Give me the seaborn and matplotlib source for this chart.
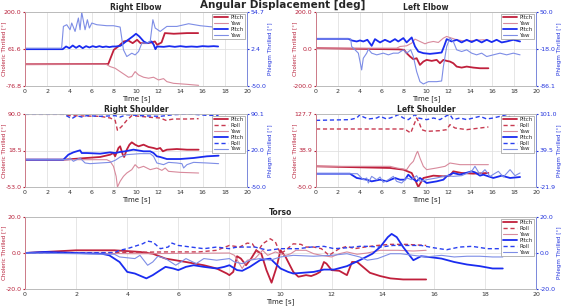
import matplotlib
matplotlib.use("Agg")
import matplotlib.pyplot as plt
from matplotlib.lines import Line2D
import seaborn as sns

# ---------------- data ----------------
# Right Elbow
re_red_pitch_t = [0, 7.5, 8.0, 8.4, 8.9, 9.3, 9.7, 10.1, 10.4, 11.0, 11.4, 11.7, 11.9, 12.3, 12.6, 13.4, 14.6, 15.6]
re_red_pitch = [4.6, 5.5, 58.5, 71.0, 89.8, 93.5, 83.5, 96.0, 83.5, 83.5, 86.0, 89.8, 77.3, 86.0, 121.1, 118.6, 121.1, 121.1]
re_red_yaw_t = [0, 7.3, 7.67, 8.12, 8.57, 9.02, 9.32, 9.62, 9.92, 10.23, 10.68, 11.13, 11.58, 12.03, 12.48, 12.78, 13.38, 14.59, 15.64]
re_red_yaw = [4.6, 4.6, -4.2, -10.4, -23.0, -35.5, -44.0, -41.7, -23.0, -35.5, -44.0, -47.7, -44.0, -54.2, -49.2, -60.5, -66.8, -70.5, -74.3]
re_blue_pitch_t = [0, 3.4, 3.7, 4.0, 4.3, 4.6, 4.9, 5.2, 5.5, 5.8, 6.1, 6.4, 6.7, 7.0, 7.3, 7.6, 7.9, 8.2, 8.6, 8.9,
                   9.3, 9.7, 10.0, 10.3, 10.7, 11.0, 11.4, 11.6, 11.75, 11.9, 12.5, 13.0, 13.5, 14.0, 14.5, 15.0,
                   15.5, 16.0, 16.5, 17.0, 17.4]
re_blue_pitch = [2.1, 2.1, 5.9, 3.5, 7.3, 4.0, 6.9, 3.5, 6.4, 4.5, 6.4, 5.0, 6.4, 5.0, 5.9, 5.0, 5.9, 5.9, 6.9, 10.6,
                 15.4, 20.1, 23.9, 20.1, 13.0, 10.6, 13.0, 8.3, 2.1, 5.9, 5.4, 6.4, 5.4, 6.4, 5.4, 5.9,
                 5.4, 6.4, 5.9, 6.4, 5.9]
re_blue_yaw_t = [0, 3.3, 3.46, 3.76, 4.06, 4.21, 4.51, 4.81, 4.96, 5.11, 5.41, 5.62, 5.8, 6.02, 6.47, 7.37, 7.97,
                 8.57, 8.87, 9.17, 9.62, 9.92, 10.23, 10.53, 10.98, 11.28, 11.52, 11.73, 12.18, 12.78, 13.68,
                 14.74, 15.79, 16.99, 17.44]
re_blue_yaw = [3.5, 3.5, 34.3, 36.7, 29.6, 39.1, 27.2, 46.2, 29.6, 54.5, 29.6, 43.8, 32.0, 39.1, 36.7, 35.3, 35.3,
               33.4, 1.2, -8.3, -3.6, -6.0, -1.2, 10.6, 10.6, 13.0, 43.8, 32.0, 27.2, 34.3, 34.3,
               38.1, 35.3, 33.4, 33.4]

# Left Elbow
le_red_pitch_t = [0, 7.5, 8.0, 8.24, 8.55, 8.85, 9.15, 9.45, 9.76, 10.06, 10.52, 10.97, 11.27, 11.58, 11.88,
                  12.18, 12.48, 12.79, 13.24, 13.7, 14.3, 14.91, 15.67]
le_red_pitch = [4.5, -2.0, -4.5, -22.6, -40.7, -55.2, -49.8, -86.0, -67.9, -58.8, -64.3, -58.8, -76.9, -58.8, -64.3,
                -67.9, -76.9, -95.0, -100.5, -95.0, -100.5, -104.1, -104.1]
le_red_yaw_t = [0, 7.33, 7.64, 8.24, 8.7, 9.0, 9.45, 9.91, 10.21, 10.67, 11.12, 11.58, 11.88, 12.33, 12.79,
                13.39, 14.3, 15.21, 15.67]
le_red_yaw = [4.5, 4.5, 13.6, 17.2, 31.7, 53.4, 40.7, 28.0, 35.3, 40.7, 35.3, 58.8, 67.9, 58.8, 49.8,
              44.3, 46.1, 49.8, 46.1]
le_blue_pitch_t = [0, 2.94, 3.24, 3.7, 4.0, 4.3, 4.67, 5.06, 5.36, 5.82, 6.27, 6.73, 7.18, 7.48, 7.94, 8.24, 8.7,
                   9.0, 9.3, 9.76, 10.36, 10.97, 11.42, 11.64, 11.88, 12.33, 12.79, 13.24, 13.7, 14.15, 14.6,
                   15.06, 15.52, 15.97, 16.42, 16.88, 17.33, 17.94, 18.55]
le_blue_pitch = [0.7, 0.7, -2.3, -4.2, -2.3, -4.2, -1.1, -12.2, 0.1, -6.0, -1.1, -5.4, 0.1, -4.2, 2.0, -6.0, 3.2,
                 -13.4, -22.7, -25.7, -27.0, -25.7, -24.5, -13.4, 0.1, -4.2, -1.1, -6.0, -1.1, -5.4, -1.1,
                 -6.0, -1.1, -5.4, -1.1, -6.0, -4.2, -1.1, -4.2]
le_blue_yaw_t = [0, 3.15, 3.24, 3.55, 3.85, 4.15, 4.3, 4.61, 4.76, 5.06, 5.52, 6.12, 6.58, 7.03, 7.48, 7.94,
                 8.24, 8.61, 8.85, 9.15, 9.45, 9.76, 10.21, 10.97, 11.42, 11.58, 11.88, 12.18, 12.48, 12.79,
                 13.24, 13.7, 14.15, 14.6, 15.06, 15.52, 16.12, 16.73, 17.33, 17.94, 18.55]
le_blue_yaw = [0.7, 0.7, -13.4, -19.6, -25.7, -56.5, -35.0, -25.7, -18.4, -25.7, -28.8, -25.7, -28.8, -25.7,
               -25.7, -19.6, -25.7, -19.6, -31.9, -59.6, -78.1, -82.4, -78.1, -78.1, -76.9, -50.4, -13.4, 2.0,
               -4.2, -19.6, -22.7, -19.6, -25.7, -28.8, -25.7, -31.9, -28.8, -25.7, -28.8, -25.7, -28.8]

# Right Shoulder
rs_red_pitch_t = [0, 3.46, 6.77, 7.67, 7.97, 8.12, 8.42, 8.57, 8.81, 8.93, 9.17, 9.41, 9.62, 9.92, 10.23, 10.68,
                  11.13, 11.58, 11.88, 12.18, 12.42, 12.78, 13.68, 14.59, 15.64]
rs_red_pitch = [0.5, 0.5, 5.8, 10.3, 13.6, 7.1, 23.4, 26.7, 10.3, 5.8, 20.1, 29.9, 34.5, 29.9, 26.7, 29.9,
                25.4, 23.4, 21.4, 23.4, 16.9, 20.1, 21.4, 20.1, 20.1]
rs_red_roll_t = [0, 3.46, 4.06, 6.77, 7.67, 8.12, 8.33, 8.72, 9.17, 9.62, 10.38, 11.28, 12.18, 12.69, 13.38,
                 14.59, 15.64]
rs_red_roll = [89.3, 89.3, 86.7, 85.4, 82.2, 77.6, 58.0, 65.8, 77.6, 86.7, 85.4, 83.5, 82.2, 77.6, 80.2,
               80.2, 80.9]
rs_red_yaw_t = [0, 7.37, 7.67, 7.97, 8.21, 8.33, 8.57, 8.87, 9.17, 9.62, 9.92, 10.23, 10.68, 11.28, 11.88,
                12.33, 12.63, 12.93, 13.98, 15.64]
rs_red_yaw = [0.5, 0.5, -2.7, -12.5, -32.1, -53.0, -41.9, -32.1, -25.6, -19.0, -9.3, -15.8, -12.5, -19.0, -15.8,
              -20.4, -15.8, -22.3, -24.3, -25.6]
rs_blue_pitch_t = [0, 3.46, 3.91, 4.36, 4.66, 4.96, 5.11, 5.56, 6.77, 7.67, 8.12, 8.57, 9.02, 9.77, 10.68,
                   11.28, 11.58, 11.88, 12.18, 12.78, 13.98, 15.19, 16.39, 17.44]
rs_blue_pitch = [2.5, 2.5, 12.1, 16.5, 18.5, 20.4, 15.2, 15.2, 14.0, 16.5, 15.2, 17.2, 18.5, 21.7, 18.5,
                 18.5, 15.2, 8.9, 7.6, 3.7, 3.7, 5.7, 8.9, 10.1]
rs_blue_roll_t = [0, 3.46, 4.21, 4.66, 5.11, 5.56, 6.77, 8.12, 8.57, 9.17, 10.38, 12.18, 13.38, 14.89, 16.39, 17.44]
rs_blue_roll = [90.1, 90.1, 81.1, 86.9, 84.3, 86.9, 85.6, 86.9, 84.3, 88.8, 86.9, 85.6, 88.8, 90.1, 87.5, 87.5]
rs_blue_yaw_t = [0, 3.91, 4.06, 4.36, 4.96, 5.41, 5.86, 6.77, 7.67, 8.12, 8.57, 9.17, 10.38, 11.28, 11.58,
                 11.88, 12.48, 12.93, 13.68, 14.14, 14.29, 14.59, 15.19, 16.39, 17.44]
rs_blue_yaw = [2.5, 2.5, 5.7, -0.7, 5.7, -3.9, -5.2, -3.9, -2.7, 1.2, 7.6, 12.1, 14.0, 14.0, 8.9,
               -3.9, -7.1, -2.7, -3.9, -5.2, -13.5, -7.1, -2.7, -3.9, -5.2]

# Left Shoulder
ls_red_pitch_t = [0, 6.73, 7.94, 8.7, 9.0, 9.3, 9.76, 10.67, 11.58, 12.18, 12.48, 13.24, 14.3, 15.67]
ls_red_pitch = [0.3, -3.7, -7.8, -15.9, -32.1, -50.0, -28.1, -22.4, -24.0, -22.4, -11.9, -15.9, -17.5, -15.9]
ls_red_roll_t = [0, 7.94, 8.24, 8.61, 8.85, 9.15, 9.39, 9.61, 10.06, 11.27, 11.88, 12.18, 12.64, 13.7, 14.91, 15.67]
ls_red_roll = [91.2, 91.2, 87.9, 81.5, 97.7, 118.0, 105.8, 89.6, 85.5, 87.1, 89.6, 101.7, 93.6, 89.6, 93.6, 96.1]
ls_red_yaw_t = [0, 6.73, 7.33, 8.24, 8.55, 8.85, 9.15, 9.24, 9.45, 9.76, 10.06, 10.97, 11.73, 12.18, 13.09,
                14.3, 15.67]
ls_red_yaw = [0.3, 0.3, -3.7, -7.8, 4.4, 12.5, 32.8, 36.8, 20.6, 0.3, -7.8, -3.7, 0.3, 8.4, 4.4, 4.4, 4.4]
ls_blue_pitch_t = [0, 3.09, 3.7, 4.61, 5.06, 5.82, 6.42, 7.18, 7.64, 8.09, 8.39, 8.7, 9.15, 9.45, 10.06, 10.97,
                   11.58, 11.88, 12.48, 13.09, 14.15, 14.45, 14.91, 15.21, 16.12, 16.88, 17.64, 18.55]
ls_blue_pitch = [0.5, 0.5, -6.7, -9.6, -12.4, -9.6, -12.4, -6.7, -9.6, -9.6, -1.1, -6.7, -12.4, -6.7, -15.2,
                 -12.4, -9.6, -4.0, 1.7, -1.1, 4.5, 2.8, -2.8, -1.1, -6.7, -2.8, -6.7, -5.1]
ls_blue_roll_t = [0, 3.09, 3.7, 4.0, 4.3, 4.76, 5.52, 5.82, 6.42, 7.03, 7.48, 7.94, 8.39, 9.0, 9.3, 10.06, 10.67,
                  11.27, 11.88, 12.18, 12.48, 13.09, 13.7, 14.3, 14.91, 15.52, 16.12, 16.73, 17.33, 17.94, 18.55]
ls_blue_roll = [90.3, 91.5, 94.3, 99.9, 96.0, 92.6, 94.3, 97.1, 92.6, 96.0, 99.9, 94.3, 91.5, 99.9, 94.3, 91.5,
                94.3, 91.5, 98.2, 99.9, 91.5, 94.3, 91.5, 94.3, 97.1, 92.6, 94.3, 97.1, 99.9, 91.5, 94.3]
ls_blue_yaw_t = [0, 3.76, 4.0, 4.3, 4.61, 4.76, 5.06, 5.52, 5.82, 6.12, 6.58, 7.03, 7.33, 7.79, 8.24, 8.7, 9.15,
                 9.45, 10.06, 10.97, 11.88, 12.48, 13.24, 14.15, 14.45, 14.91, 15.36, 15.82, 16.58, 17.03,
                 17.64, 18.09, 18.55]
ls_blue_yaw = [0.5, 0.5, -4.0, -9.6, -6.7, -15.2, -4.0, -9.6, -5.1, -14.0, -9.6, -4.0, -12.4, -15.2, -6.7, -9.6,
               -2.8, -12.4, -9.6, -6.7, -2.8, -4.0, -2.8, 4.5, 12.9, -1.1, 7.3, -4.0, 4.5, -5.1, 7.3, -2.8, 1.7]

# Torso
to_red_pitch_t = [0, 2.0, 3.5, 4.5, 5.0, 5.5, 6.3, 7.0, 7.5, 7.9, 8.0, 8.15, 8.3, 8.45, 8.65, 8.85, 9.05, 9.25,
                  9.45, 9.65, 9.85, 10.0, 10.2, 10.5, 10.7, 11.0, 11.2, 11.4, 11.55, 11.7, 11.8, 12.0, 12.3,
                  12.6, 12.8, 13.0, 13.3, 13.5, 13.9, 14.3, 14.8, 15.7]
to_red_pitch = [0, 1.5, 1.5, 0.6, -0.4, -3.1, -5.0, -6.8, -8.6, -11.4, -12.3, -10.5, -1.8, -3.1, -6.8, -3.1,
                1.5, -0.4, -9.5, -16.5, -7.7, 1.5, -2.2, -10.5, -13.2, -12.3, -12.8, -11.7, -10.5, -5.0,
                -5.9, -9.5, -9.9, -12.3, -5.0, -5.0, -8.6, -11.0, -12.8, -14.1, -14.7, -14.7]
to_red_roll_t = [0, 3.0, 5.5, 6.8, 7.5, 8.0, 8.4, 8.7, 8.9, 9.1, 9.3, 9.6, 9.8, 10.0, 10.2, 10.5, 10.8, 11.0,
                 11.3, 11.6, 11.9, 12.1, 12.3, 12.6, 12.9, 13.3, 13.8, 14.3, 14.9, 15.7]
to_red_roll = [0, 0.2, 0.6, 0.6, 1.5, 4.2, 3.3, 5.5, 5.1, 0.6, 5.1, 7.9, 6.1, -0.4, 1.5, 5.1, 4.8, 3.3,
               3.3, 2.4, -1.3, 0.6, 2.4, 3.7, 2.4, 3.3, 4.2, 4.8, 4.8, 4.2]
to_red_yaw_t = [0, 4.5, 8.0, 8.2, 8.5, 8.7, 9.0, 9.3, 9.5, 9.8, 10.0, 10.2, 10.4, 10.6, 11.0, 11.3, 11.6, 12.0,
                12.3, 12.6, 13.0, 13.4, 13.9, 14.6, 15.2, 15.7]
to_red_yaw = [0, -0.4, 0, -1.3, -8.6, -4.0, -3.1, 1.5, -1.3, 0.6, -0.4, -1.3, -0.4, 1.5, 1.5, -0.4, -1.3, -2.2,
              -0.4, 0.6, -0.7, 0, 1.5, 1.5, 1.1, 1.5]
to_blue_pitch_t = [0, 0.8, 2.0, 3.0, 3.3, 3.7, 4.0, 4.3, 4.75, 5.0, 5.3, 5.5, 5.8, 6.0, 6.3, 6.6, 7.0, 7.5, 7.8,
                   8.0, 8.3, 8.5, 8.8, 9.2, 9.6, 10.0, 10.3, 10.5, 11.3, 11.7, 12.1, 12.6, 13.1, 13.6, 13.9,
                   14.2, 14.35, 14.55, 14.8, 15.1, 15.2, 15.5, 15.8, 16.3, 16.8, 17.3, 17.8, 18.3, 18.7]
to_blue_pitch = [0, 0.6, 0, -0.4, -1.3, -5.0, -10.5, -11.4, -14.1, -12.3, -9.5, -7.7, -8.6, -9.5, -7.7, -6.8,
                 -7.7, -8.6, -7.7, -6.8, -9.5, -9.9, -7.7, -4.0, -3.1, -8.6, -10.5, -11.4, -10.5, -9.2, -9.2,
                 -7.3, -4.0, -0.4, 3.3, 8.8, 10.6, 8.8, 3.3, -2.2, -4.0, -1.8, -2.2, -3.1, -5.0, -6.4, -7.3,
                 -8.6, -8.6]
to_blue_roll_t = [0, 3.5, 3.7, 4.0, 4.6, 4.8, 5.0, 5.3, 5.6, 5.75, 6.0, 6.5, 7.0, 7.5, 8.0, 8.3, 9.0, 9.5, 10.0,
                  10.7, 11.2, 11.7, 12.1, 12.6, 13.1, 13.4, 13.9, 14.4, 14.9, 15.5, 16.0, 16.5, 17.0, 17.5,
                  18.1, 18.7]
to_blue_roll = [0, 0.2, 1.5, 2.4, 5.1, 6.6, 6.1, 2.4, 3.3, 5.5, 4.2, 3.3, 2.4, 3.3, 2.4, 3.3, 3.3, 1.5, 2.4,
                2.4, 3.3, 3.7, 2.4, 2.9, 3.7, 3.7, 3.3, 4.2, 4.2, 4.2, 2.9, 1.8, 3.3, 3.7, 2.4, 2.4]
to_blue_yaw_t = [0, 2.0, 3.5, 3.7, 4.3, 4.5, 4.8, 5.0, 5.2, 5.5, 5.9, 6.1, 6.3, 6.7, 7.0, 7.5, 8.0, 8.2, 8.5,
                 8.8, 9.2, 9.6, 10.0, 10.5, 11.3, 12.0, 12.6, 13.1, 13.4, 13.8, 14.3, 14.7, 15.2, 15.7, 16.3,
                 16.8, 17.3, 17.8, 18.3, 18.7]
to_blue_yaw = [0, -0.4, -0.7, -2.2, -3.1, -1.3, -6.8, -5.0, -1.8, -3.1, -6.8, -5.0, -3.1, -5.9, -3.1, -4.0,
               -3.1, -5.0, -5.9, -4.0, -3.1, -4.0, -2.2, -1.3, -1.8, -1.3, -0.4, -2.2, -4.0, -3.1, -0.4,
               -0.4, -1.3, -2.2, -1.3, -2.2, -1.8, -1.8, -2.2, -2.2]

# axis limits (left axis, right axis) per panel
re_lims = ((-76.8, 200.0), (-50.0, 54.7))
le_lims = ((-200.0, 200.0), (-86.1, 50.0))
rs_lims = ((-53.0, 90.0), (-50.0, 90.1))
ls_lims = ((-50.0, 127.7), (-21.9, 101.0))
to_lims = ((-20.0, 20.0), (-20.0, 20.0))

# ---------------- style ----------------
RED_TXT = "#b8203a"
BLUE_TXT = "#2233dd"
STYLES = {
    "red_pitch": dict(color="#c0203c", lw=1.3, ls="-"),
    "red_roll": dict(color="#c83a50", lw=1.0, ls=(0, (3, 2))),
    "red_yaw": dict(color="#d88a9c", lw=0.8, ls="-"),
    "blue_pitch": dict(color="#1a2cf0", lw=1.3, ls="-"),
    "blue_roll": dict(color="#2a40f0", lw=1.0, ls=(0, (3, 2))),
    "blue_yaw": dict(color="#7d8de6", lw=0.8, ls="-"),
}
LABELS = {"pitch": "Pitch", "roll": "Roll", "yaw": "Yaw"}

sns.set_style("whitegrid")
plt.rcParams["font.family"] = ["DejaVu Sans"]

W, H = 565, 308
fig = plt.figure(figsize=(W / 100, H / 100), dpi=100)


def add_axes(left, right, top, bottom):
    ax = fig.add_axes([left / W, 1 - bottom / H, (right - left) / W, (bottom - top) / H])
    ax.width_px = right - left
    return ax


def draw_panel(ax, title, left_series, right_series, lims):
    ax2 = ax.twinx()
    for key, t, v in left_series:
        st = STYLES[key]
        sns.lineplot(x=t, y=v, ax=ax, color=st["color"], linewidth=st["lw"], linestyle=st["ls"],
                     estimator=None, sort=False, legend=False)
    for key, t, v in right_series:
        st = STYLES[key]
        sns.lineplot(x=t, y=v, ax=ax2, color=st["color"], linewidth=st["lw"], linestyle=st["ls"],
                     estimator=None, sort=False, legend=False)

    (l0, l1), (r0, r1) = lims
    ax.set_xlim(0, 20)
    ax.set_ylim(l0, l1)
    ax2.set_ylim(r0, r1)
    ax.set_xticks(range(0, 21, 2))
    ax.set_yticks([l0, (l0 + l1) / 2, l1])
    ax.set_yticklabels([f"{v:.1f}" for v in [l0, (l0 + l1) / 2, l1]])
    ax2.set_yticks([r0, (r0 + r1) / 2, r1])
    ax2.set_yticklabels([f"{v:.1f}" for v in [r0, (r0 + r1) / 2, r1]])

    ax.tick_params(axis="x", labelsize=4.5, colors="#333333", length=1.5, pad=1)
    ax.tick_params(axis="y", labelsize=4.5, colors=RED_TXT, length=1.5, pad=1)
    ax2.tick_params(axis="y", labelsize=4.5, colors=BLUE_TXT, length=1.5, pad=1)
    ax.grid(True, color="#dcdcdc", lw=0.5)
    ax2.grid(False)

    for a in (ax, ax2):
        for s in a.spines.values():
            s.set_color("#bbbbbb")
            s.set_linewidth(0.6)
    ax2.spines["left"].set_color("#d07080")
    ax2.spines["right"].set_color("#7080e0")

    ax.set_xlabel("Time [s]", fontsize=5, labelpad=0.5, color="#222222")
    ax.set_ylabel("Choleric Thrilled [°]", fontsize=4.1, color=RED_TXT)
    ax2.set_ylabel("Phlegm Thrilled [°]", fontsize=4.1, color=BLUE_TXT)
    ax.yaxis.set_label_coords(-19 / ax.width_px, 0.5)
    ax2.yaxis.set_label_coords(1 + 21 / ax.width_px, 0.5)
    ax.set_title(title, fontsize=5.5, fontweight="bold", pad=1.5)

    handles, labels = [], []
    for key, _, _ in list(left_series) + list(right_series):
        st = STYLES[key]
        handles.append(Line2D([], [], color=st["color"], lw=st["lw"], ls=st["ls"]))
        labels.append(LABELS[key.split("_")[1]])
    leg = ax2.legend(handles, labels, loc="upper right", fontsize=4, frameon=True, fancybox=False,
                     edgecolor="#999999", framealpha=1, handlelength=2.6, handletextpad=0.4,
                     borderpad=0.3, labelspacing=0.15, borderaxespad=0.3)
    leg.get_frame().set_linewidth(0.5)


ax_re = add_axes(25, 247, 12, 86)
draw_panel(ax_re, "Right Elbow",
           [("red_pitch", re_red_pitch_t, re_red_pitch), ("red_yaw", re_red_yaw_t, re_red_yaw)],
           [("blue_pitch", re_blue_pitch_t, re_blue_pitch), ("blue_yaw", re_blue_yaw_t, re_blue_yaw)],
           re_lims)

ax_le = add_axes(316, 536, 12, 86)
draw_panel(ax_le, "Left Elbow",
           [("red_pitch", le_red_pitch_t, le_red_pitch), ("red_yaw", le_red_yaw_t, le_red_yaw)],
           [("blue_pitch", le_blue_pitch_t, le_blue_pitch), ("blue_yaw", le_blue_yaw_t, le_blue_yaw)],
           le_lims)

ax_rs = add_axes(25, 247, 114, 187)
draw_panel(ax_rs, "Right Shoulder",
           [("red_pitch", rs_red_pitch_t, rs_red_pitch), ("red_roll", rs_red_roll_t, rs_red_roll),
            ("red_yaw", rs_red_yaw_t, rs_red_yaw)],
           [("blue_pitch", rs_blue_pitch_t, rs_blue_pitch), ("blue_roll", rs_blue_roll_t, rs_blue_roll),
            ("blue_yaw", rs_blue_yaw_t, rs_blue_yaw)],
           rs_lims)

ax_ls = add_axes(316, 536, 114, 187)
draw_panel(ax_ls, "Left Shoulder",
           [("red_pitch", ls_red_pitch_t, ls_red_pitch), ("red_roll", ls_red_roll_t, ls_red_roll),
            ("red_yaw", ls_red_yaw_t, ls_red_yaw)],
           [("blue_pitch", ls_blue_pitch_t, ls_blue_pitch), ("blue_roll", ls_blue_roll_t, ls_blue_roll),
            ("blue_yaw", ls_blue_yaw_t, ls_blue_yaw)],
           ls_lims)

ax_to = add_axes(25, 536, 217, 289)
draw_panel(ax_to, "Torso",
           [("red_pitch", to_red_pitch_t, to_red_pitch), ("red_roll", to_red_roll_t, to_red_roll),
            ("red_yaw", to_red_yaw_t, to_red_yaw)],
           [("blue_pitch", to_blue_pitch_t, to_blue_pitch), ("blue_roll", to_blue_roll_t, to_blue_roll),
            ("blue_yaw", to_blue_yaw_t, to_blue_yaw)],
           to_lims)

fig.text(0.5, 1 - 5 / H, "Angular Displacement [deg]", ha="center", va="center",
         fontsize=7.5, fontweight="bold")

fig.savefig("out.png", dpi=100)
